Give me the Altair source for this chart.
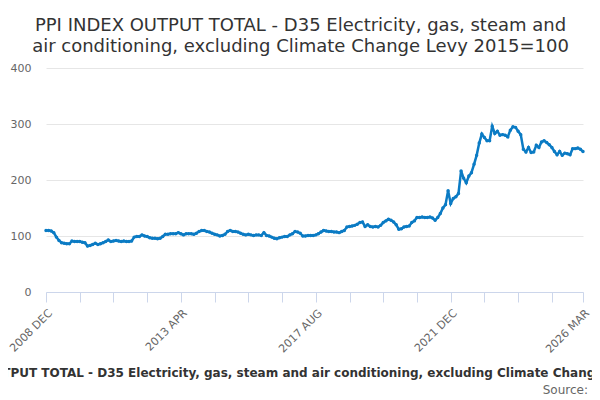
import altair as alt
import pandas as pd

TITLE_LINES = [
    "PPI INDEX OUTPUT TOTAL - D35 Electricity, gas, steam and",
    "air conditioning, excluding Climate Change Levy 2015=100",
]
X_TITLE = ("PPI INDEX OUTPUT TOTAL - D35 Electricity, gas, steam and air "
           "conditioning, excluding Climate Change Levy")
SOURCE = "Source:"

START_YEAR = 2008
START_MONTH = 12
MONTH_NAMES = ["JAN", "FEB", "MAR", "APR", "MAY", "JUN",
               "JUL", "AUG", "SEP", "OCT", "NOV", "DEC"]

# Monthly index values, 2008 DEC .. 2026 MAR
values = [
    110, 110, 109, 106, 98, 92, 88, 87, 86, 86,
    91, 90, 90, 90, 89, 88, 82, 83, 85, 87,
    85, 86, 88, 90, 93, 90, 91, 92, 91, 90,
    91, 90, 90, 91, 98, 99, 99, 102, 100, 99,
    97, 96, 96, 95, 96, 99, 103, 103, 104, 104,
    104, 106, 104, 102, 104, 104, 104, 103, 105, 108,
    110, 110, 108, 107, 105, 103, 102, 100, 101, 103,
    108, 110, 108, 108, 107, 105, 103, 102, 103, 102,
    101, 102, 102, 101, 106, 101, 100, 98, 96, 95,
    97, 98, 99, 99, 102, 104, 108, 107, 105, 100,
    100, 101, 101, 101, 102, 104, 107, 110, 109, 108,
    108, 107, 107, 106, 108, 110, 116, 117, 118, 119,
    121, 124, 125, 117, 120, 117, 116, 117, 116, 119,
    124, 127, 130, 128, 125, 120, 112, 113, 116, 117,
    118, 124, 127, 133, 133, 134, 133, 133, 134, 132,
    128, 133, 140, 150, 156, 181, 158, 167, 170, 176,
    216, 203, 195, 207, 213, 228, 244, 266, 282, 276,
    270, 270, 296, 283, 287, 280, 281, 280, 277, 289,
    295, 294, 287, 281, 255, 250, 258, 249, 250, 262,
    258, 268, 270, 267, 263, 258, 251, 245, 251, 244,
    248, 247, 245, 256, 256, 257, 255, 251,
]

tick_positions = [0, 13, 26, 39, 52, 65, 78, 91, 104, 117,
                  130, 143, 156, 169, 182, 195, 207]
label_positions = [0, 52, 104, 156, 207]
label_texts = ["2008 DEC", "2013 APR", "2017 AUG", "2021 DEC", "2026 MAR"]
y_ticks = [0, 100, 200, 300, 400]

months = []
for i in range(len(values)):
    m = START_MONTH - 1 + i
    months.append(f"{START_YEAR + m // 12} {MONTH_NAMES[m % 12]}")

df = pd.DataFrame({"i": list(range(len(values))), "month": months, "value": values})

label_expr = "''"
for pos, txt in reversed(list(zip(label_positions, label_texts))):
    label_expr = f"datum.value == {pos} ? '{txt}' : ({label_expr})"

FONT = "DejaVu Sans"
BLUE = "#0b7bc4"

line = alt.Chart(df).mark_line(
    color=BLUE, strokeWidth=2.5,
    point=alt.OverlayMarkDef(color=BLUE, size=12, filled=True),
).encode(
    x=alt.X("i:Q",
            scale=alt.Scale(domain=[0, len(values) - 1], nice=False, zero=False),
            axis=alt.Axis(
                values=tick_positions, labelExpr=label_expr, labelAngle=-45,
                labelOverlap=False, labelFlush=False, labelFontSize=11,
                labelColor="#666666", labelFont=FONT, grid=False,
                domainColor="#ccd6eb", tickColor="#ccd6eb", tickSize=10,
                labelPadding=5,
                title=X_TITLE, titleFont=FONT, titleFontSize=12,
                titleFontWeight="bold", titleColor="#333333",
                titleLimit=3000, titleX=228, titleY=84, titleAlign="center",
                titleBaseline="alphabetic",
            )),
    y=alt.Y("value:Q",
            scale=alt.Scale(domain=[0, 400], nice=False),
            axis=alt.Axis(
                values=y_ticks, grid=True, gridColor="#e6e6e6", domain=False,
                ticks=False, labelPadding=15, labelFontSize=11,
                labelColor="#666666", labelFont=FONT, title=None,
            )),
)

source = alt.Chart(pd.DataFrame({"t": [SOURCE]})).mark_text(
    align="right", baseline="alphabetic", font=FONT, fontSize=12, color="#666666",
).encode(text="t:N", x=alt.value(542), y=alt.value(326))

chart = alt.layer(line, source).properties(
    width=537, height=224,
    title=alt.TitleParams(
        text=TITLE_LINES, font=FONT, fontSize=18, fontWeight="normal",
        color="#333333", anchor="middle", frame="group", dx=-14, offset=6,
        lineHeight=21,
    ),
    autosize=alt.AutoSizeParams(type="none"),
    padding={"left": 38, "top": 60, "right": 9, "bottom": 106},
).configure_view(stroke=None)

chart.save("out.html", embed_options={"renderer": "svg", "actions": False})
